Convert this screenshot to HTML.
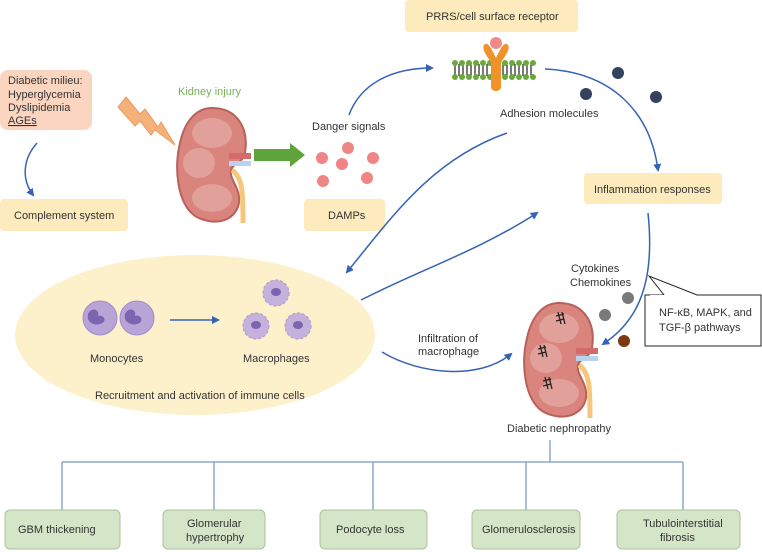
<!DOCTYPE html>
<html><head><meta charset="utf-8"><style>
html,body{margin:0;padding:0;background:#fff;width:762px;height:552px;overflow:hidden}
svg{display:block}
text{font-family:"Liberation Sans",Arial,sans-serif;fill:#333;font-size:11px}
</style></head><body>
<svg width="762" height="552" viewBox="0 0 762 552" xmlns="http://www.w3.org/2000/svg">
<defs>
<marker id="a" markerWidth="8" markerHeight="8" refX="6" refY="4" orient="auto" markerUnits="userSpaceOnUse"><path d="M0,0 L8,4 L0,8 Z" fill="#3563b5"/></marker>
<g id="kid">
<path d="M35,0 C60,0 72,20 68,45 C66,55 56,55 54,62 C52,72 64,80 62,95 C58,115 35,118 18,108 C0,95 -3,60 3,35 C8,12 20,0 35,0 Z" fill="#d9847c" stroke="#b8605a" stroke-width="2"/>
<ellipse cx="35" cy="25" rx="20" ry="15" fill="#e2a09a"/>
<ellipse cx="22" cy="55" rx="16" ry="15" fill="#e2a09a"/>
<ellipse cx="35" cy="90" rx="20" ry="14" fill="#e2a09a"/>
<rect x="52" y="45" width="22" height="6" fill="#d56a6a"/>
<rect x="52" y="53" width="22" height="5" fill="#b9d2ee"/>
<path d="M55,62 C66,70 66,85 66,115" stroke="#f5c77c" stroke-width="5" fill="none"/>
</g>
</defs>

<!-- boxes top -->
<rect x="0" y="70" width="92" height="60" rx="8" fill="#fbd5bf"/>
<text x="8" y="84">Diabetic milieu:</text>
<text x="8" y="98">Hyperglycemia</text>
<text x="8" y="111">Dyslipidemia</text>
<text x="8" y="124" text-decoration="underline">AGEs</text>
<rect x="0" y="199" width="128" height="32" rx="4" fill="#fdebbe"/>
<text x="14" y="219">Complement system</text>
<path d="M37,143 C22,160 22,180 33,195" stroke="#3563b5" stroke-width="1.5" fill="none" marker-end="url(#a)"/>

<text x="178" y="95" style="fill:#7ab05a">Kidney injury</text>
<path d="M118,107 L126,97 L140,114 L145,109 L158,127 L161,122 L175,145 L155,130 L151,135 L140,121 L135,126 Z" fill="#f6b07a" stroke="#e89a60" stroke-width="1"/>
<use href="#kid" x="177" y="108"/>
<path d="M254,149 L290,149 L290,143 L305,155 L290,167 L290,161 L254,161 Z" fill="#5fa33c"/>

<text x="312" y="130">Danger signals</text>
<g fill="#f08585"><circle cx="348" cy="148" r="6"/><circle cx="322" cy="158" r="6"/><circle cx="342" cy="164" r="6"/><circle cx="373" cy="158" r="6"/><circle cx="323" cy="181" r="6"/><circle cx="367" cy="178" r="6"/></g>
<rect x="304" y="199" width="81" height="32" rx="4" fill="#fdebbe"/>
<text x="328" y="219">DAMPs</text>
<path d="M349,115 C360,85 390,68 432,68" stroke="#3563b5" stroke-width="1.5" fill="none" marker-end="url(#a)"/>

<rect x="405" y="0" width="173" height="32" rx="4" fill="#fdebbe"/>
<text x="426" y="20">PRRS/cell surface receptor</text>
<g>
<rect x="452" y="62" width="83" height="16" fill="#fff"/>
<g stroke="#222" stroke-width="1.2">
<path d="M455,64 v12 M459,64 v12 M463,64 v12 M467,64 v12 M471,64 v12 M475,64 v12 M479,64 v12 M483,64 v12 M487,64 v12 M503,64 v12 M507,64 v12 M511,64 v12 M515,64 v12 M519,64 v12 M523,64 v12 M527,64 v12 M531,64 v12"/></g>
<g fill="#6aaa3a">
<circle cx="455" cy="63" r="3"/><circle cx="462" cy="63" r="3"/><circle cx="469" cy="63" r="3"/><circle cx="476" cy="63" r="3"/><circle cx="483" cy="63" r="3"/><circle cx="490" cy="63" r="3"/><circle cx="505" cy="63" r="3"/><circle cx="512" cy="63" r="3"/><circle cx="519" cy="63" r="3"/><circle cx="526" cy="63" r="3"/><circle cx="533" cy="63" r="3"/>
<circle cx="455" cy="77" r="3"/><circle cx="462" cy="77" r="3"/><circle cx="469" cy="77" r="3"/><circle cx="476" cy="77" r="3"/><circle cx="483" cy="77" r="3"/><circle cx="490" cy="77" r="3"/><circle cx="505" cy="77" r="3"/><circle cx="512" cy="77" r="3"/><circle cx="519" cy="77" r="3"/><circle cx="526" cy="77" r="3"/><circle cx="533" cy="77" r="3"/></g>
<path d="M484,45 C488,40 493,52 496,58 C499,52 504,40 508,45 C511,50 503,58 501,63 L501,88 C499,92 493,92 491,88 L491,63 C489,58 481,50 484,45 Z" fill="#f0922a"/>
<circle cx="496" cy="43" r="6" fill="#f08a8a"/>
</g>
<text x="500" y="117">Adhesion molecules</text>
<g fill="#34425f"><circle cx="618" cy="73" r="6"/><circle cx="586" cy="94" r="6"/><circle cx="656" cy="97" r="6"/></g>
<path d="M545,69 C610,72 650,110 658,170" stroke="#3563b5" stroke-width="1.5" fill="none" marker-end="url(#a)"/>
<rect x="584" y="173" width="138" height="31" rx="4" fill="#fdebbe"/>
<text x="594" y="193">Inflammation responses</text>

<!-- ellipse -->
<ellipse cx="195" cy="335" rx="180" ry="80" fill="#fdf1cc"/>
<g>
<circle cx="100" cy="318" r="17" fill="#b9a4d8" stroke="#a08cc8"/>
<circle cx="137" cy="318" r="17" fill="#b9a4d8" stroke="#a08cc8"/>
<path d="M88,314 c4,-8 12,-4 10,2 c6,-2 10,6 2,8 c-6,2 -14,-2 -12,-10z" fill="#7c64b0"/>
<path d="M125,314 c4,-8 12,-4 10,2 c6,-2 10,6 2,8 c-6,2 -14,-2 -12,-10z" fill="#7c64b0"/>
</g>
<path d="M170,320 L218,320" stroke="#3563b5" stroke-width="1.5" marker-end="url(#a)"/>
<g fill="#c4b2dc" stroke="#ab97cc">
<circle cx="276" cy="293" r="13" stroke-dasharray="3 2"/><circle cx="256" cy="326" r="13" stroke-dasharray="3 2"/><circle cx="298" cy="326" r="13" stroke-dasharray="3 2"/></g>
<g fill="#7c64b0"><ellipse cx="276" cy="292" rx="5" ry="4"/><ellipse cx="256" cy="325" rx="5" ry="4"/><ellipse cx="298" cy="325" rx="5" ry="4"/></g>
<text x="90" y="362">Monocytes</text>
<text x="243" y="362">Macrophages</text>
<text x="95" y="399">Recruitment and activation of immune cells</text>

<path d="M507,133 C430,160 390,220 347,272" stroke="#3563b5" stroke-width="1.5" fill="none" marker-end="url(#a)"/>
<path d="M361,300 C420,270 480,250 537,213" stroke="#3563b5" stroke-width="1.5" fill="none" marker-end="url(#a)"/>
<path d="M382,352 C420,375 480,380 511,354" stroke="#3563b5" stroke-width="1.5" fill="none" marker-end="url(#a)"/>
<text x="418" y="342">Infiltration of</text>
<text x="418" y="355">macrophage</text>
<path d="M648,213 C655,280 640,320 603,344" stroke="#3563b5" stroke-width="1.5" fill="none" marker-end="url(#a)"/>

<use href="#kid" x="524" y="303"/>
<g stroke="#222" stroke-width="1.3" fill="none">
<path d="M556,316 l8,-2 M556,321 l8,-2 M558,312 l3,12 M562,312 l3,12"/>
<path d="M538,349 l8,-2 M538,354 l8,-2 M540,345 l3,12 M544,345 l3,12"/>
<path d="M543,381 l8,-2 M543,386 l8,-2 M545,377 l3,12 M549,377 l3,12"/>
</g>
<text x="571" y="272">Cytokines</text>
<text x="570" y="286">Chemokines</text>
<g><circle cx="628" cy="298" r="6" fill="#7a7a7a"/><circle cx="605" cy="315" r="6" fill="#7a7a7a"/><circle cx="624" cy="341" r="6" fill="#7a3a12"/></g>
<path d="M649,276 L664,295 L645,295 L645,346 L761,346 L761,295 L697,295 Z" fill="#fff" stroke="#222" stroke-width="1"/>
<path d="M650,296 L696,296" stroke="#fff" stroke-width="2"/>
<text x="659" y="316">NF-κB, MAPK, and</text>
<text x="659" y="331">TGF-β pathways</text>
<text x="507" y="432">Diabetic nephropathy</text>

<!-- tree -->
<g stroke="#8fa8cc" stroke-width="1.5" fill="none">
<path d="M550,440 V462 M62,462 H683 M62,462 V510 M214,462 V510 M373,462 V510 M526,462 V510 M683,462 V510"/>
</g>
<g fill="#d5e5c7" stroke="#a9c39a">
<rect x="5" y="510" width="115" height="39" rx="5"/>
<rect x="163" y="510" width="102" height="39" rx="5"/>
<rect x="320" y="510" width="107" height="39" rx="5"/>
<rect x="472" y="510" width="108" height="39" rx="5"/>
<rect x="617" y="510" width="123" height="39" rx="5"/>
</g>
<text x="18" y="533">GBM thickening</text>
<text x="187" y="527">Glomerular</text>
<text x="186" y="541">hypertrophy</text>
<text x="336" y="533">Podocyte loss</text>
<text x="482" y="533">Glomerulosclerosis</text>
<text x="643" y="527">Tubulointerstitial</text>
<text x="660" y="541">fibrosis</text>
</svg>
</body></html>
